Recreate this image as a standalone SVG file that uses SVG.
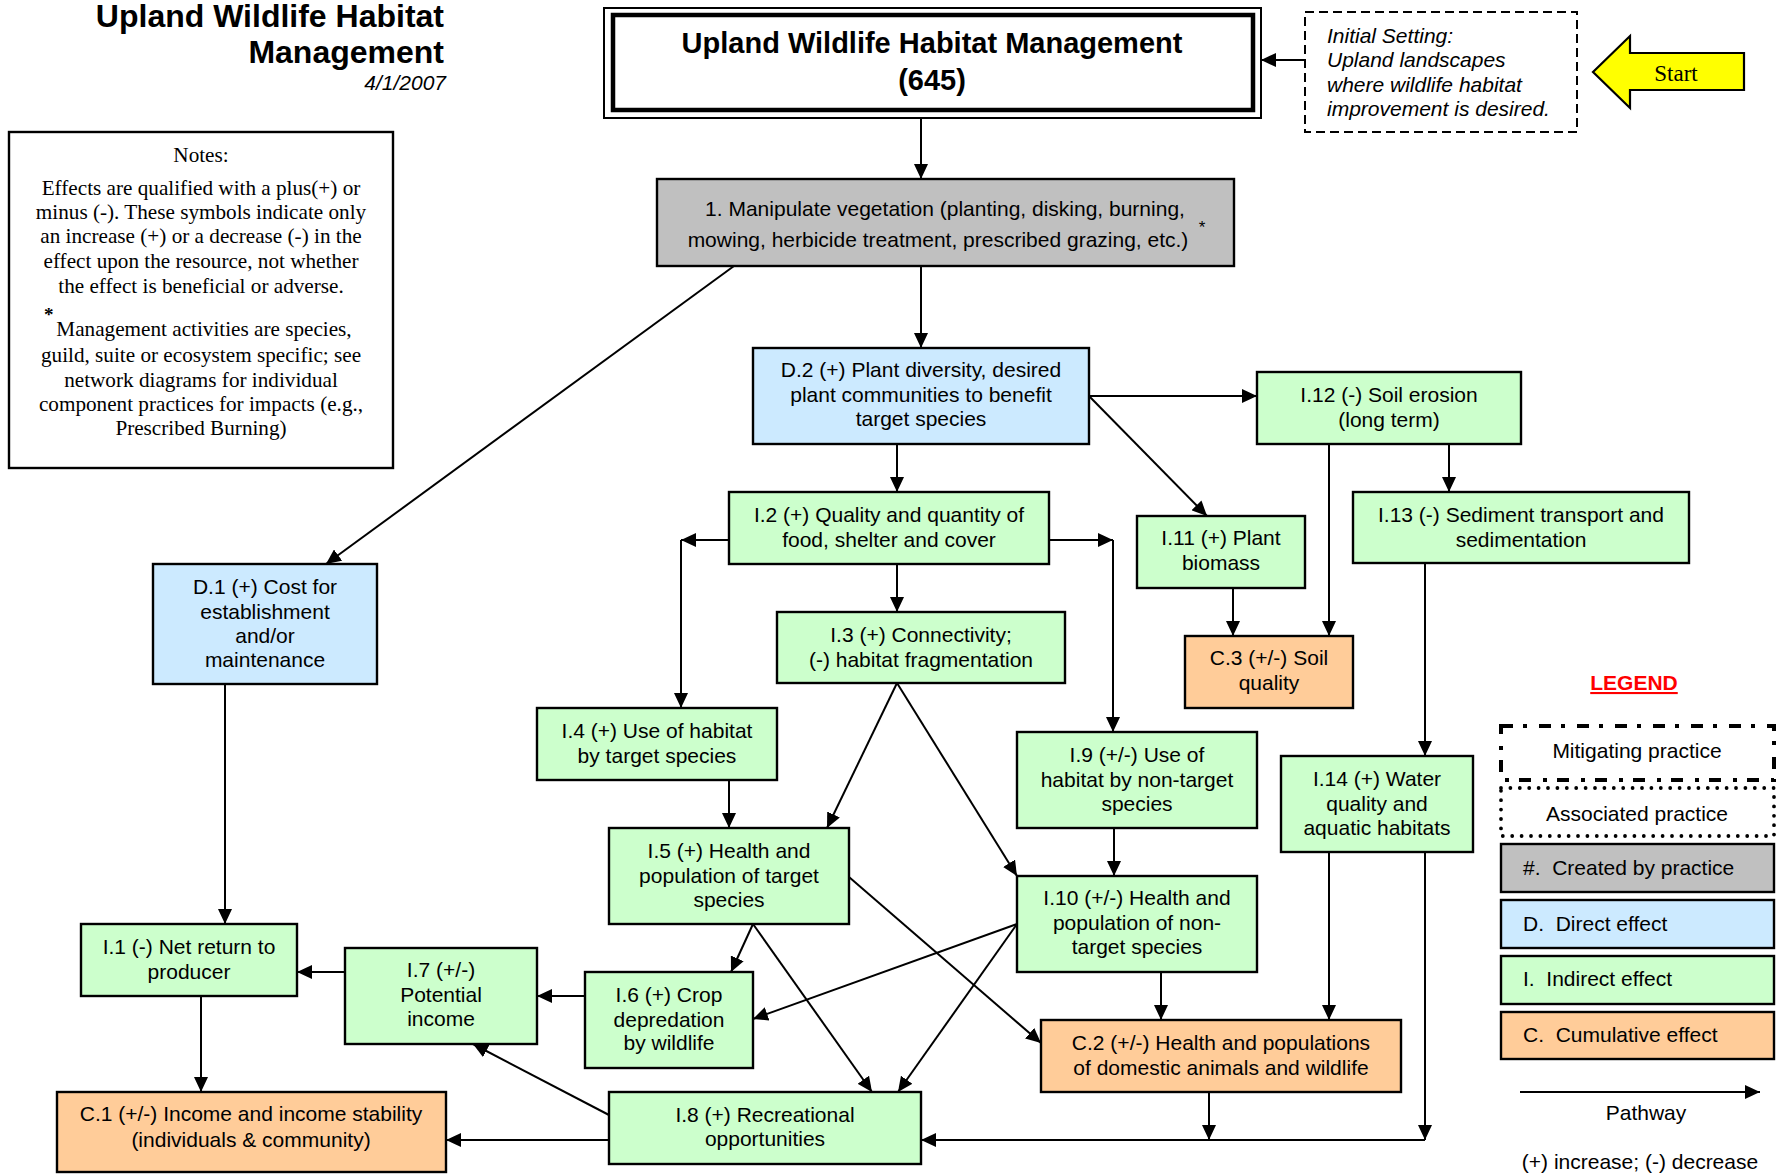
<svg xmlns="http://www.w3.org/2000/svg" width="1782" height="1175" viewBox="0 0 1782 1175">
  <style>
    .bx { stroke: #000; stroke-width: 2.4; }
    .gray { fill: #c0c0c0; }
    .blue { fill: #cceaff; }
    .green { fill: #ccffcc; }
    .orange { fill: #ffcc99; }
    .lbl { font-family: "Liberation Sans", Arial, sans-serif; font-size: 21px; fill: #000; text-anchor: middle; }
    .note { font-family: "Liberation Serif", "Times New Roman", serif; font-size: 21.2px; fill: #000; text-anchor: middle; }
    .leg { font-family: "Liberation Sans", Arial, sans-serif; font-size: 21px; fill: #000; white-space: pre; }
    .ln { stroke: #000; stroke-width: 2; fill: none; }
    .ar { marker-end: url(#ah); }
  </style>
  <defs>
    <marker id="ah" markerUnits="userSpaceOnUse" markerWidth="16" markerHeight="14" refX="15" refY="7" orient="auto">
      <path d="M0,0 L15,7 L0,14 z" fill="#000"/>
    </marker>
  </defs>

  <rect width="1782" height="1175" fill="#fff"/>

  <!-- heading -->
  <g id="heading" font-family="Liberation Sans, Arial, sans-serif" text-anchor="end">
    <text x="444" y="27" font-size="32" font-weight="bold">Upland Wildlife Habitat</text>
    <text x="444" y="63" font-size="32" font-weight="bold">Management</text>
    <text x="446" y="90" font-size="21" font-style="italic">4/1/2007</text>
  </g>

  <!-- notes panel -->
  <g id="notes">
    <rect x="9" y="132" width="384" height="336" fill="#fff" stroke="#000" stroke-width="2.4"/>
    <text class="note" x="201" y="162">Notes:</text>
    <text class="note" x="201" y="195">Effects are qualified with a plus(+) or</text>
    <text class="note" x="201" y="219">minus (-). These symbols indicate only</text>
    <text class="note" x="201" y="243">an increase (+) or a decrease (-) in the</text>
    <text class="note" x="201" y="268">effect upon the resource, not whether</text>
    <text class="note" x="201" y="293">the effect is beneficial or adverse.</text>
    <text x="44" y="321" font-family="Liberation Serif, serif" font-size="19" font-weight="bold">*</text>
    <text class="note" x="204" y="336">Management activities are species,</text>
    <text class="note" x="201" y="362">guild, suite or ecosystem specific; see</text>
    <text class="note" x="201" y="387">network diagrams for individual</text>
    <text class="note" x="201" y="411">component practices for impacts (e.g.,</text>
    <text class="note" x="201" y="435">Prescribed Burning)</text>
  </g>

  <!-- practice title -->
  <g id="practice">
    <rect x="604" y="8" width="657" height="110" fill="#fff" stroke="#000" stroke-width="2"/>
    <rect x="613" y="15" width="640" height="95" fill="none" stroke="#000" stroke-width="4.5"/>
    <text x="932" y="53" font-family="Liberation Sans, Arial, sans-serif" font-size="29" font-weight="bold" text-anchor="middle">Upland Wildlife Habitat Management</text>
    <text x="932" y="90" font-family="Liberation Sans, Arial, sans-serif" font-size="29" font-weight="bold" text-anchor="middle">(645)</text>
  </g>

  <!-- initial setting -->
  <g id="initial-setting">
    <rect x="1305" y="12" width="272" height="120" fill="#fff" stroke="#000" stroke-width="2" stroke-dasharray="9 5"/>
    <g font-family="Liberation Sans, Arial, sans-serif" font-size="21" font-style="italic">
      <text x="1327" y="43">Initial Setting:</text>
      <text x="1327" y="67">Upland landscapes</text>
      <text x="1327" y="92">where wildlife habitat</text>
      <text x="1327" y="116">improvement is desired.</text>
    </g>
  </g>

  <!-- start arrow -->
  <g id="start">
    <polygon points="1593,72 1630,36 1630,53 1744,53 1744,90 1630,90 1630,108" fill="#ffff00" stroke="#000" stroke-width="2.2"/>
    <text x="1676" y="81" font-family="Liberation Serif, serif" font-size="23" text-anchor="middle">Start</text>
  </g>

  <!-- 1. created by practice -->
  <g id="n1">
    <rect class="bx gray" x="657" y="179" width="577" height="87"/>
    <text class="lbl" x="945" y="216">1. Manipulate vegetation (planting, disking, burning,</text>
    <text class="lbl" x="938" y="247">mowing, herbicide treatment, prescribed grazing, etc.)</text>
    <text x="1202" y="233" font-family="Liberation Sans, Arial, sans-serif" font-size="17" text-anchor="middle">*</text>
  </g>

  <!-- direct effects -->
  <g id="d1">
    <rect class="bx blue" x="153" y="564" width="224" height="120"/>
    <text class="lbl" x="265" y="594">D.1 (+) Cost for</text>
    <text class="lbl" x="265" y="619">establishment</text>
    <text class="lbl" x="265" y="643">and/or</text>
    <text class="lbl" x="265" y="667">maintenance</text>
  </g>
  <g id="d2">
    <rect class="bx blue" x="753" y="348" width="336" height="96"/>
    <text class="lbl" x="921" y="377">D.2 (+) Plant diversity, desired</text>
    <text class="lbl" x="921" y="402">plant communities to benefit</text>
    <text class="lbl" x="921" y="426">target species</text>
  </g>

  <!-- indirect effects -->
  <g id="i1">
    <rect class="bx green" x="81" y="924" width="216" height="72"/>
    <text class="lbl" x="189" y="954">I.1 (-) Net return to</text>
    <text class="lbl" x="189" y="979">producer</text>
  </g>
  <g id="i2">
    <rect class="bx green" x="729" y="492" width="320" height="72"/>
    <text class="lbl" x="889" y="522">I.2 (+) Quality and quantity of</text>
    <text class="lbl" x="889" y="547">food, shelter and cover</text>
  </g>
  <g id="i3">
    <rect class="bx green" x="777" y="612" width="288" height="71"/>
    <text class="lbl" x="921" y="642">I.3 (+) Connectivity;</text>
    <text class="lbl" x="921" y="667">(-) habitat fragmentation</text>
  </g>
  <g id="i4">
    <rect class="bx green" x="537" y="708" width="240" height="72"/>
    <text class="lbl" x="657" y="738">I.4 (+) Use of habitat</text>
    <text class="lbl" x="657" y="763">by target species</text>
  </g>
  <g id="i5">
    <rect class="bx green" x="609" y="828" width="240" height="96"/>
    <text class="lbl" x="729" y="858">I.5 (+) Health and</text>
    <text class="lbl" x="729" y="883">population of target</text>
    <text class="lbl" x="729" y="907">species</text>
  </g>
  <g id="i6">
    <rect class="bx green" x="585" y="972" width="168" height="96"/>
    <text class="lbl" x="669" y="1002">I.6 (+) Crop</text>
    <text class="lbl" x="669" y="1027">depredation</text>
    <text class="lbl" x="669" y="1050">by wildlife</text>
  </g>
  <g id="i7">
    <rect class="bx green" x="345" y="948" width="192" height="96"/>
    <text class="lbl" x="441" y="977">I.7 (+/-)</text>
    <text class="lbl" x="441" y="1002">Potential</text>
    <text class="lbl" x="441" y="1026">income</text>
  </g>
  <g id="i8">
    <rect class="bx green" x="609" y="1092" width="312" height="72"/>
    <text class="lbl" x="765" y="1122">I.8 (+) Recreational</text>
    <text class="lbl" x="765" y="1146">opportunities</text>
  </g>
  <g id="i9">
    <rect class="bx green" x="1017" y="732" width="240" height="96"/>
    <text class="lbl" x="1137" y="762">I.9 (+/-) Use of</text>
    <text class="lbl" x="1137" y="787">habitat by non-target</text>
    <text class="lbl" x="1137" y="811">species</text>
  </g>
  <g id="i10">
    <rect class="bx green" x="1017" y="876" width="240" height="96"/>
    <text class="lbl" x="1137" y="905">I.10 (+/-) Health and</text>
    <text class="lbl" x="1137" y="930">population of non-</text>
    <text class="lbl" x="1137" y="954">target species</text>
  </g>
  <g id="i11">
    <rect class="bx green" x="1137" y="516" width="168" height="72"/>
    <text class="lbl" x="1221" y="545">I.11 (+) Plant</text>
    <text class="lbl" x="1221" y="570">biomass</text>
  </g>
  <g id="i12">
    <rect class="bx green" x="1257" y="372" width="264" height="72"/>
    <text class="lbl" x="1389" y="402">I.12 (-) Soil erosion</text>
    <text class="lbl" x="1389" y="427">(long term)</text>
  </g>
  <g id="i13">
    <rect class="bx green" x="1353" y="492" width="336" height="71"/>
    <text class="lbl" x="1521" y="522">I.13 (-) Sediment transport and</text>
    <text class="lbl" x="1521" y="547">sedimentation</text>
  </g>
  <g id="i14">
    <rect class="bx green" x="1281" y="756" width="192" height="96"/>
    <text class="lbl" x="1377" y="786">I.14 (+) Water</text>
    <text class="lbl" x="1377" y="811">quality and</text>
    <text class="lbl" x="1377" y="835">aquatic habitats</text>
  </g>

  <!-- cumulative effects -->
  <g id="c1">
    <rect class="bx orange" x="57" y="1092" width="389" height="80"/>
    <text class="lbl" x="251" y="1121">C.1 (+/-) Income and income stability</text>
    <text class="lbl" x="251" y="1147">(individuals &amp; community)</text>
  </g>
  <g id="c2">
    <rect class="bx orange" x="1041" y="1020" width="360" height="72"/>
    <text class="lbl" x="1221" y="1050">C.2 (+/-) Health and populations</text>
    <text class="lbl" x="1221" y="1075">of domestic animals and wildlife</text>
  </g>
  <g id="c3">
    <rect class="bx orange" x="1185" y="636" width="168" height="72"/>
    <text class="lbl" x="1269" y="665">C.3 (+/-) Soil</text>
    <text class="lbl" x="1269" y="690">quality</text>
  </g>

  <!-- pathways -->
  <g id="connectors">
    <line class="ln ar" x1="1305" y1="60" x2="1261" y2="60"/>
    <line class="ln ar" x1="921" y1="118" x2="921" y2="179"/>
    <line class="ln ar" x1="921" y1="266" x2="921" y2="348"/>
    <line class="ln ar" x1="734" y1="266" x2="326" y2="564"/>
    <line class="ln ar" x1="897" y1="444" x2="897" y2="492"/>
    <line class="ln ar" x1="1089" y1="396" x2="1257" y2="396"/>
    <line class="ln ar" x1="1089" y1="396" x2="1207" y2="516"/>
    <line class="ln ar" x1="729" y1="540" x2="681" y2="540"/>
    <line class="ln ar" x1="681" y1="540" x2="681" y2="708"/>
    <line class="ln ar" x1="1049" y1="540" x2="1113" y2="540"/>
    <line class="ln ar" x1="1113" y1="540" x2="1113" y2="732"/>
    <line class="ln ar" x1="897" y1="564" x2="897" y2="612"/>
    <line class="ln ar" x1="897" y1="683" x2="827" y2="828"/>
    <line class="ln ar" x1="897" y1="683" x2="1017" y2="876"/>
    <line class="ln ar" x1="1329" y1="444" x2="1329" y2="636"/>
    <line class="ln ar" x1="1449" y1="444" x2="1449" y2="492"/>
    <line class="ln ar" x1="1233" y1="588" x2="1233" y2="636"/>
    <line class="ln ar" x1="1425" y1="563" x2="1425" y2="756"/>
    <line class="ln ar" x1="1329" y1="852" x2="1329" y2="1020"/>
    <line class="ln ar" x1="1425" y1="852" x2="1425" y2="1140"/>
    <line class="ln ar" x1="1425" y1="1140" x2="921" y2="1140"/>
    <line class="ln ar" x1="1209" y1="1092" x2="1209" y2="1140"/>
    <line class="ln ar" x1="225" y1="684" x2="225" y2="924"/>
    <line class="ln ar" x1="729" y1="780" x2="729" y2="828"/>
    <line class="ln ar" x1="1114" y1="828" x2="1114" y2="876"/>
    <line class="ln ar" x1="1161" y1="972" x2="1161" y2="1020"/>
    <line class="ln ar" x1="849" y1="877" x2="1041" y2="1043"/>
    <line class="ln ar" x1="753" y1="924" x2="731" y2="972"/>
    <line class="ln ar" x1="753" y1="924" x2="872" y2="1092"/>
    <line class="ln ar" x1="1017" y1="924" x2="753" y2="1019"/>
    <line class="ln ar" x1="1017" y1="924" x2="898" y2="1092"/>
    <line class="ln ar" x1="585" y1="996" x2="537" y2="996"/>
    <line class="ln ar" x1="345" y1="972" x2="297" y2="972"/>
    <line class="ln ar" x1="609" y1="1115" x2="473" y2="1044"/>
    <line class="ln ar" x1="609" y1="1140" x2="446" y2="1140"/>
    <line class="ln ar" x1="201" y1="996" x2="201" y2="1092"/>
  </g>

  <!-- legend -->
  <g id="legend">
    <text x="1634" y="690" font-family="Liberation Sans, Arial, sans-serif" font-size="21" font-weight="bold" fill="#ff0000" text-anchor="middle" text-decoration="underline">LEGEND</text>
    <rect x="1501" y="726" width="273" height="54" fill="#fff" stroke="#000" stroke-width="4" stroke-dasharray="12 10 4 12"/>
    <text class="lbl" x="1637" y="758">Mitigating practice</text>
    <rect x="1501" y="788" width="273" height="48" fill="#fff" stroke="#000" stroke-width="3.8" stroke-linecap="round" stroke-dasharray="0 9.4"/>
    <text class="lbl" x="1637" y="821">Associated practice</text>
    <rect class="bx gray" x="1501" y="844" width="273" height="48"/>
    <text class="leg" x="1523" y="875">#.  Created by practice</text>
    <rect class="bx blue" x="1501" y="900" width="273" height="48"/>
    <text class="leg" x="1523" y="931">D.  Direct effect</text>
    <rect class="bx green" x="1501" y="956" width="273" height="48"/>
    <text class="leg" x="1523" y="986">I.  Indirect effect</text>
    <rect class="bx orange" x="1501" y="1012" width="273" height="47"/>
    <text class="leg" x="1523" y="1042">C.  Cumulative effect</text>
    <line class="ln ar" x1="1520" y1="1092" x2="1760" y2="1092"/>
    <text class="lbl" x="1646" y="1120">Pathway</text>
    <text class="lbl" x="1640" y="1169">(+) increase; (-) decrease</text>
  </g>
</svg>
